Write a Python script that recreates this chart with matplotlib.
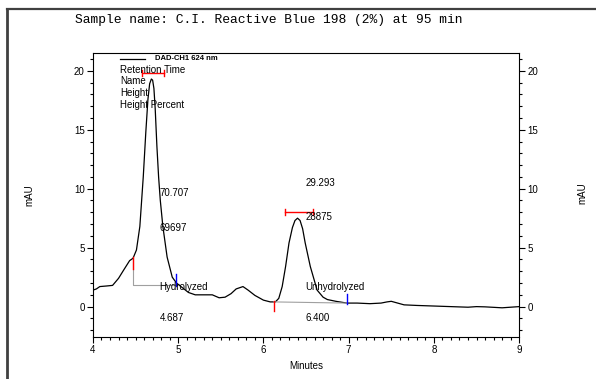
import matplotlib
matplotlib.use("Agg")
import matplotlib.pyplot as plt
from matplotlib.lines import Line2D
from matplotlib.ticker import MultipleLocator

# chromatogram trace (minutes, mAU)
minutes = [4.00, 4.04, 4.08, 4.16, 4.23, 4.30, 4.36, 4.43, 4.47, 4.51, 4.55,
           4.59, 4.62, 4.645, 4.665, 4.685, 4.70, 4.715, 4.73, 4.75, 4.77,
           4.79, 4.82, 4.87, 4.93, 4.98,
           5.05, 5.12, 5.20, 5.30, 5.40, 5.48, 5.55, 5.62, 5.68, 5.76, 5.82,
           5.90, 6.00, 6.08, 6.14, 6.18, 6.22, 6.26, 6.30, 6.34, 6.37, 6.40,
           6.43, 6.46, 6.49, 6.55, 6.63, 6.70, 6.75, 6.85, 6.98, 7.10, 7.25,
           7.38, 7.45, 7.50, 7.55, 7.65, 7.80, 8.00, 8.20, 8.40, 8.50, 8.60,
           8.80, 8.90, 9.00]
mau = [1.4, 1.5, 1.7, 1.75, 1.8, 2.4, 3.1, 3.9, 4.1, 4.8, 6.8,
       11.0, 14.8, 17.6, 18.9, 19.3, 19.2, 18.5, 16.8, 13.6, 11.0,
       9.0, 6.8, 4.2, 2.5, 2.0,
       1.6, 1.2, 1.0, 1.0, 1.0, 0.75, 0.8, 1.1, 1.5, 1.7, 1.4,
       0.95, 0.55, 0.4, 0.4, 0.7, 1.7, 3.4, 5.4, 6.7, 7.3, 7.5,
       7.3, 6.6, 5.4, 3.4, 1.4, 0.8, 0.6, 0.45, 0.3, 0.3, 0.25,
       0.3, 0.4, 0.45, 0.35, 0.15, 0.1, 0.05, 0.0, -0.05, 0.0, -0.02,
       -0.1, -0.05, 0.0]

# peak table
peak_names = ["Hydrolyzed", "Unhydrolyzed"]
peak_times = ["4.687", "6.400"]
peak_heights = ["69697", "28875"]
peak_percent = ["70.707", "29.293"]
peak_start = [(4.47, 4.1), (6.12, 0.4)]
peak_end = [(4.98, 1.85), (6.98, 0.3)]
baseline_y = [1.8, 0.3]
width_bars = [(4.58, 4.83, 19.8), (6.25, 6.58, 8.0)]
label_x = [4.78, 6.49]

fig = plt.figure(figsize=(5.96, 3.79), dpi=100)
ax = fig.add_axes([0.156, 0.111, 0.715, 0.749])

ax.plot(minutes, mau, color="black", lw=0.9)

# integration baselines and markers
for i in range(2):
    x0, y0 = peak_start[i]
    x1, y1 = peak_end[i]
    if i == 0:
        ax.plot([x0, x0, x1], [y0, baseline_y[i], baseline_y[i]], color="#a0a0a0", lw=0.8)
        ax.plot([x0, x0], [y0 + 0.1, y0 - 0.9], color="red", lw=1)
        ax.plot([x1, x1], [y1 + 0.9, y1 - 0.1], color="blue", lw=1)
    else:
        ax.plot([x0, x1], [y0, y1], color="#a0a0a0", lw=0.8)
        ax.plot([x0, x0], [y0 + 0.1, y0 - 0.8], color="red", lw=1)
        ax.plot([x1, x1], [y1 + 0.8, y1 - 0.05], color="blue", lw=1)
    a, b, y = width_bars[i]
    ax.plot([a, b], [y, y], color="red", lw=1)
    ax.plot([a, a], [y - 0.25, y + 0.25], color="red", lw=1)
    ax.plot([b, b], [y - 0.25, y + 0.25], color="red", lw=1)

txt = dict(fontsize=7, family="Liberation Sans", va="center", ha="left")
for i in range(2):
    ax.text(label_x[i], 9.6 if i == 0 else 10.5, peak_percent[i], **txt)
    ax.text(label_x[i], 6.7 if i == 0 else 7.6, peak_heights[i], **txt)
    ax.text(label_x[i], 1.65, peak_names[i], **txt)
    ax.text(label_x[i], -0.95, peak_times[i], **txt)

# legend block
ax.plot([4.32, 4.61], [21.0, 21.0], color="black", lw=0.9)
ax.text(4.73, 21.0, "DAD-CH1 624 nm", fontsize=5.5, fontweight="bold",
        family="Liberation Sans", va="center", ha="left")
for j, s in enumerate(["Retention Time", "Name", "Height", "Height Percent"]):
    ax.text(4.32, 20.1 - j * 1.0, s, **txt)

ax.set_xlim(4, 9)
ax.set_ylim(-2.57, 21.5)
ax.xaxis.set_major_locator(MultipleLocator(1))
ax.xaxis.set_minor_locator(MultipleLocator(0.1))
ax.yaxis.set_major_locator(MultipleLocator(5))
ax.yaxis.set_minor_locator(MultipleLocator(1))
ax.tick_params(which="both", direction="out", labelsize=7, width=0.8, pad=2,
               right=True, labelright=True)
ax.tick_params(which="major", length=4)
ax.tick_params(which="minor", length=2)
for lab in ax.get_xticklabels() + ax.get_yticklabels():
    lab.set_family("Liberation Sans")
for sp in ax.spines.values():
    sp.set_linewidth(0.8)

ax.set_xlabel("Minutes", fontsize=7, family="Liberation Sans", labelpad=4)
fig.text(0.05, 0.485, "mAU", rotation=90, fontsize=7, family="Liberation Sans",
         ha="center", va="center")
fig.text(0.978, 0.49, "mAU", rotation=90, fontsize=7, family="Liberation Sans",
         ha="center", va="center")

fig.text(0.451, 0.947, "Sample name: C.I. Reactive Blue 198 (2%) at 95 min",
         fontsize=9.4, family="Liberation Mono", ha="center", va="center")

# outer frame
fig.add_artist(Line2D([0.012, 0.012], [0.0, 0.976], color="#404040", lw=2))
fig.add_artist(Line2D([0.012, 1.0], [0.976, 0.976], color="#404040", lw=1.6))

fig.savefig("out.png", dpi=100)
